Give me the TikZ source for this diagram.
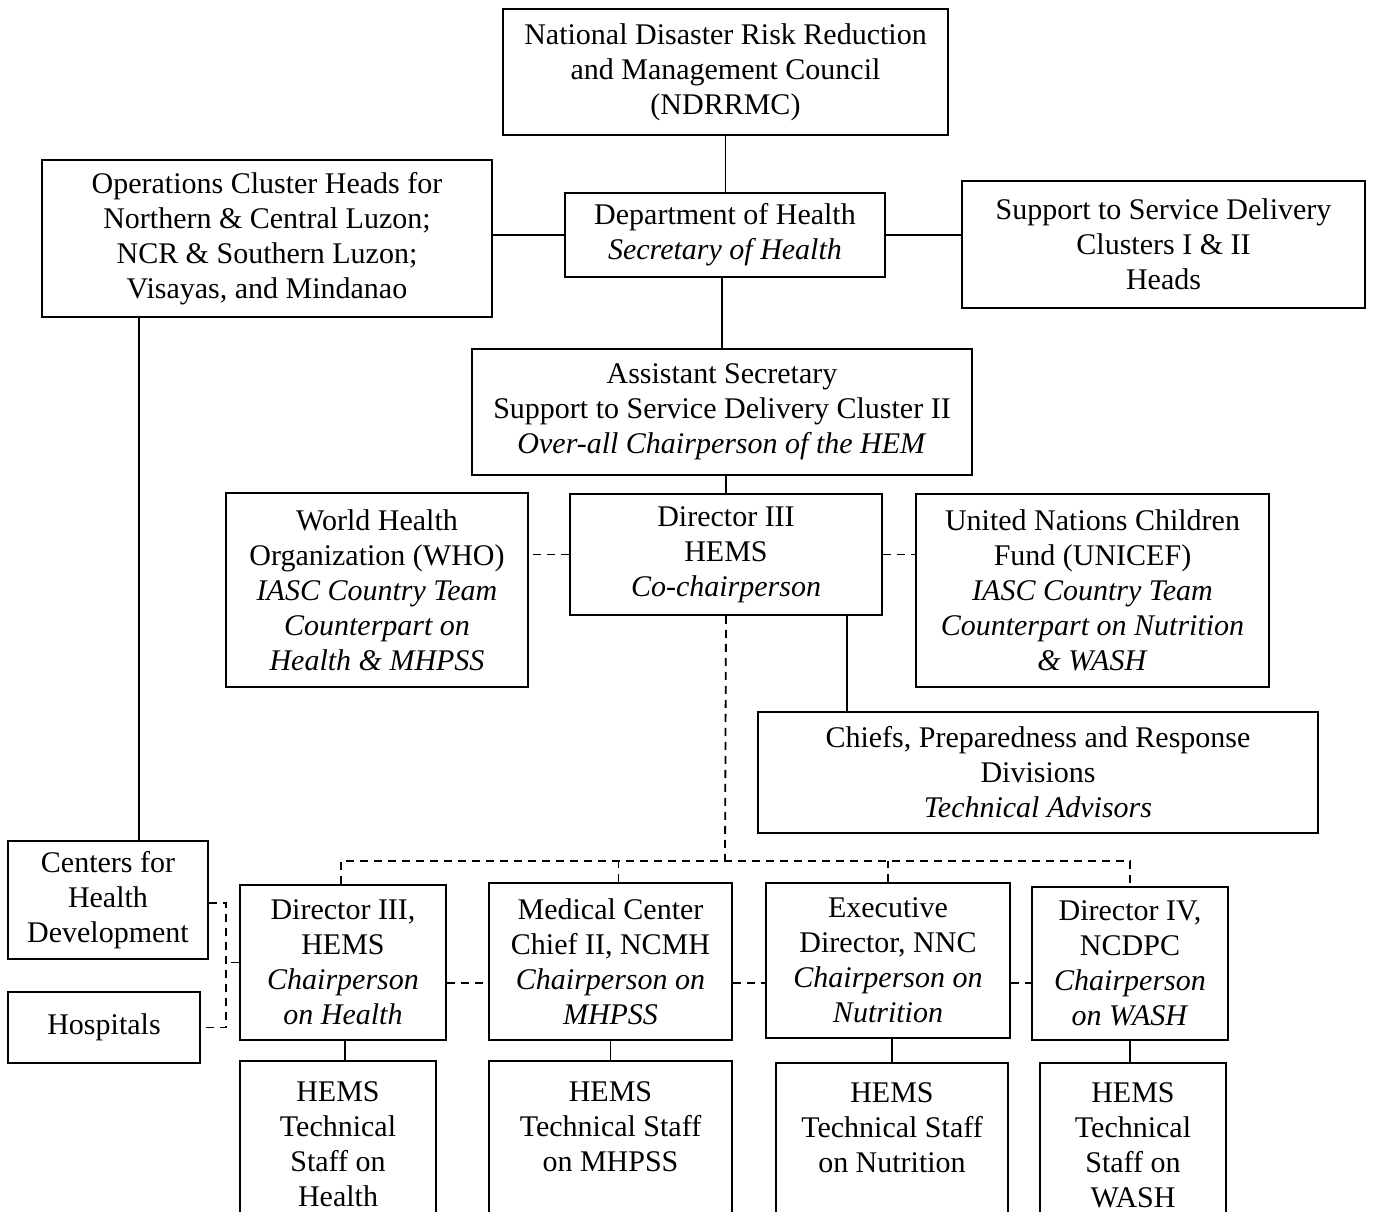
\documentclass[tikz,border=0pt]{standalone}
\usepackage{fontspec}
\setmainfont{Liberation Serif}

\tikzset{
  orgbox/.style={draw, line width=1.8pt, align=center, inner sep=2pt},
  solidline/.style={line width=1.8pt},
  dashline/.style={line width=1.8pt, dash pattern=on 8pt off 6pt},
}

\begin{document}
\begin{tikzpicture}[x=1pt, y=-1pt, every node/.style={font=\fontsize{30}{35}\selectfont}]
        \useasboundingbox (0,0) rectangle (1373,1212);
        \clip (0,0) rectangle (1373,1212);

        % top of the chart
        \node[orgbox, minimum width=445, minimum height=126] (ndrrmc) at (725.5,72) {National Disaster Risk Reduction\\and Management Council\\(NDRRMC)};
        \node[orgbox, minimum width=320, minimum height=84] (doh) at (725,235) {Department of Health\\\textit{Secretary of Health}};
        \node[orgbox, minimum width=450, minimum height=157] (ops) at (267,238.5) {Operations Cluster Heads for\\Northern \& Central Luzon;\\NCR \& Southern Luzon;\\Visayas, and Mindanao};
        \node[orgbox, minimum width=403, minimum height=127] (support) at (1163.5,244.5) {Support to Service Delivery\\Clusters I \& II\\Heads};
        \node[orgbox, minimum width=500, minimum height=126] (asst) at (722,412) {Assistant Secretary\\Support to Service Delivery Cluster II\\\textit{Over-all Chairperson of the HEM}};

        % middle row
        \node[orgbox, minimum width=302, minimum height=194] (who) at (377,590) {World Health\\Organization (WHO)\\\textit{IASC Country Team}\\\textit{Counterpart on}\\\textit{Health \& MHPSS}};
        \node[orgbox, minimum width=312, minimum height=121] (dir3) at (726,554.5) {Director III\\HEMS\\\textit{Co-chairperson}};
        \node[orgbox, minimum width=353, minimum height=193] (unicef) at (1092.5,590.5) {United Nations Children\\Fund (UNICEF)\\\textit{IASC Country Team}\\\textit{Counterpart on Nutrition}\\\textit{\& WASH}};
        \node[orgbox, minimum width=560, minimum height=121] (chiefs) at (1038,772.5) {Chiefs, Preparedness and Response\\Divisions\\\textit{Technical Advisors}};

        % left side
        \node[orgbox, minimum width=200, minimum height=118] (centers) at (108,900) {Centers for\\Health\\Development};
        \node[orgbox, minimum width=192, minimum height=71] (hospitals) at (104,1027.5) {Hospitals};

        % chairpersons
        \node[orgbox, minimum width=206, minimum height=155] (chairA) at (343,962.5) {Director III,\\HEMS\\\textit{Chairperson}\\\textit{on Health}};
        \node[orgbox, minimum width=243, minimum height=157] (chairB) at (610.5,961.5) {Medical Center\\Chief II, NCMH\\\textit{Chairperson on}\\\textit{MHPSS}};
        \node[orgbox, minimum width=244, minimum height=155] (chairC) at (888,960.5) {Executive\\Director, NNC\\\textit{Chairperson on}\\\textit{Nutrition}};
        \node[orgbox, minimum width=196, minimum height=153] (chairD) at (1130,963.5) {Director IV,\\NCDPC\\\textit{Chairperson}\\\textit{on WASH}};

        % technical staff
        \node[orgbox, minimum width=196, minimum height=166] (staffA) at (338,1144) {HEMS\\Technical\\Staff on\\Health};
        \node[orgbox, minimum width=243, minimum height=166] (staffB) at (610.5,1144) {HEMS\\Technical Staff\\on MHPSS\\\mbox{}};
        \node[orgbox, minimum width=232, minimum height=164] (staffC) at (892,1145) {HEMS\\Technical Staff\\on Nutrition\\\mbox{}};
        \node[orgbox, minimum width=186, minimum height=164] (staffD) at (1133,1145) {HEMS\\Technical\\Staff on\\WASH};

        \coordinate (bus) at (725,861);
        \coordinate (linkrow) at (0,983);
        \coordinate (brk) at (226,0);

        % solid lines
        \draw[solidline] (ndrrmc.south) -- (ndrrmc.south |- doh.north);
        \draw[solidline] (doh.west) -- (doh.west -| ops.east);
        \draw[solidline] (doh.east) -- (doh.east -| support.west);
        \draw[solidline] (asst.north |- doh.south) -- (asst.north);
        \draw[solidline] (dir3.north |- asst.south) -- (dir3.north);
        \draw[solidline] ([xshift=-36pt]dir3.south east) -- ([xshift=-36pt]dir3.south east |- chiefs.north);
        \draw[solidline] ([xshift=31pt]centers.north) -- ([xshift=31pt]centers.north |- ops.south);
        \draw[solidline] ([xshift=2pt]chairA.south) -- ([xshift=2pt]chairA.south |- staffA.north);
        \draw[solidline] (chairB.south) -- (chairB.south |- staffB.north);
        \draw[solidline] (staffC.north |- chairC.south) -- (staffC.north);
        \draw[solidline] (chairD.south) -- (chairD.south |- staffD.north);

        % dashed lines
        \draw[dashline] (dir3.west) -- (dir3.west -| who.east);
        \draw[dashline] (dir3.east) -- (dir3.east -| unicef.west);
        \draw[dashline] (dir3.south) -- (bus);
        \draw[dashline] ([xshift=-2pt]chairA.north) -- ([xshift=-2pt]chairA.north |- bus) -- (chairD.north |- bus) -- (chairD.north);
        \draw[dashline] ([xshift=8pt]chairB.north) -- ([xshift=8pt]chairB.north |- bus);
        \draw[dashline] (chairC.north) -- (chairC.north |- bus);
        \draw[dashline] (chairA.east |- linkrow) -- (chairB.west |- linkrow);
        \draw[dashline] (chairB.east |- linkrow) -- (chairC.west |- linkrow);
        \draw[dashline] (chairC.east |- linkrow) -- (chairD.west |- linkrow);
        \draw[dashline] ([yshift=-3pt]centers.east) -| (brk |- hospitals.east) -- (hospitals.east);
        \draw[dashline] (chairA.west) -- (chairA.west -| brk);
\end{tikzpicture}
\end{document}
